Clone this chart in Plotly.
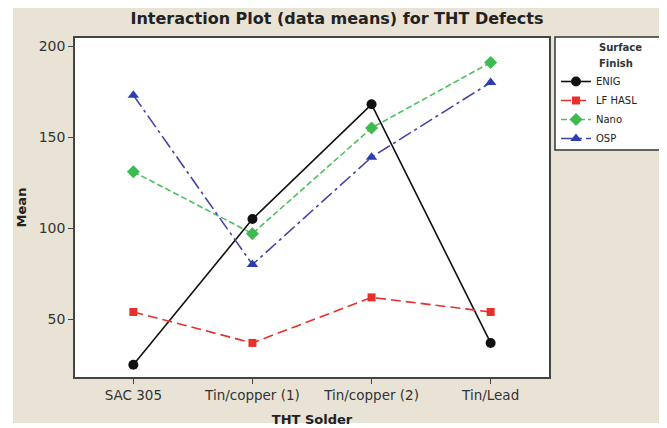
import plotly.graph_objects as go

categories = ["SAC 305", "Tin/copper (1)", "Tin/copper (2)", "Tin/Lead"]
enig = [25, 105, 168, 37]
lf_hasl = [54, 37, 62, 54]
nano = [131, 97, 155, 191]
osp = [173, 80, 139, 180]
y_ticks = [50, 100, 150, 200]

series = [
    ("ENIG", enig, "#111111", "#111111", "solid", "circle", 10),
    ("LF HASL", lf_hasl, "#E8302A", "#E8302A", "10px,5px", "square", 8),
    ("Nano", nano, "#4CC05A", "#3DBB50", "6px,3px", "diamond", 10),
    ("OSP", osp, "#4044A8", "#2B3DB0", "14px,4px,3px,4px", "triangle-up", 10),
]

fig = go.Figure()
for name, vals, lc, mc, dash, sym, ms in series:
    fig.add_trace(go.Scatter(
        x=list(range(len(categories))), y=vals, name=name,
        mode="lines+markers",
        line=dict(color=lc, width=1.6, dash=dash),
        marker=dict(color=mc, symbol=sym, size=ms),
    ))

# page body has an 8px default margin; work in reference pixel coords and shift
OX, OY = 8, 8
W, H = 667 - OX, 428 - OY
L, R, T, B = 75 - OX, 549 - OX, 38 - OY, 377 - OY
pw, ph = R - L, B - T

def px(x):
    return (x - OX - L) / pw

def py(y):
    return (B - (y - OY)) / ph

shapes = [
    dict(type="rect", xref="paper", yref="paper", x0=px(13), x1=px(667), y0=py(423), y1=py(7),
         fillcolor="#E9E3D6", line=dict(width=0), layer="below"),
    dict(type="rect", xref="paper", yref="paper", x0=0, x1=1, y0=0, y1=1,
         fillcolor="white", line=dict(width=0), layer="below"),
    dict(type="rect", xref="paper", yref="paper", x0=px(555), x1=px(662), y0=py(150), y1=py(37),
         fillcolor="white", line=dict(color="#333333", width=1.5), layer="below"),
]

annotations = [
    dict(text="<b>Surface</b>", xref="paper", yref="paper", x=px(597), y=py(47), xanchor="left",
         yanchor="middle", showarrow=False, font=dict(size=10, color="#333333", family="DejaVu Sans")),
    dict(text="<b>Finish</b>", xref="paper", yref="paper", x=px(597), y=py(64), xanchor="left",
         yanchor="middle", showarrow=False, font=dict(size=10, color="#333333", family="DejaVu Sans")),
]

fig.update_layout(
    width=W, height=H,
    margin=dict(l=L, r=W - R, t=T, b=H - B, autoexpand=False),
    paper_bgcolor="white", plot_bgcolor="white",
    font=dict(family="DejaVu Sans", color="#333333", size=12),
    title=dict(text="<b>Interaction Plot (data means) for THT Defects</b>", x=(337 - OX) / W,
               xanchor="center", y=1 - (18 - OY) / H, yanchor="middle",
               font=dict(size=16, color="#222222")),
    showlegend=True,
    legend=dict(x=px(556), y=py(67), xanchor="left", yanchor="top", bgcolor="rgba(0,0,0,0)",
                borderwidth=0, font=dict(size=10, color="#222222"), tracegroupgap=0,
                itemwidth=30),
    shapes=shapes,
    annotations=annotations,
)

fig.update_xaxes(
    tickmode="array", tickvals=list(range(len(categories))), ticktext=categories,
    range=[-0.49, 3.49], showline=True, mirror=True, linecolor="#444444", linewidth=1.5,
    ticks="outside", ticklen=5, tickcolor="#444444", showgrid=False, zeroline=False,
    automargin=False,
    title=dict(text="<b>THT Solder</b>", font=dict(size=13, color="#222222"), standoff=13),
    tickfont=dict(size=13.5, color="#333333"),
)
fig.update_yaxes(
    tickmode="array", tickvals=y_ticks, range=[18.3, 204.4],
    showline=True, mirror=True, linecolor="#444444", linewidth=1.5,
    ticks="outside", ticklen=5, tickcolor="#444444", showgrid=False, zeroline=False,
    automargin=False,
    title=dict(text="<b>Mean</b>", font=dict(size=13, color="#222222"), standoff=9),
    tickfont=dict(size=14, color="#333333"),
)

fig.write_html("out.html")
